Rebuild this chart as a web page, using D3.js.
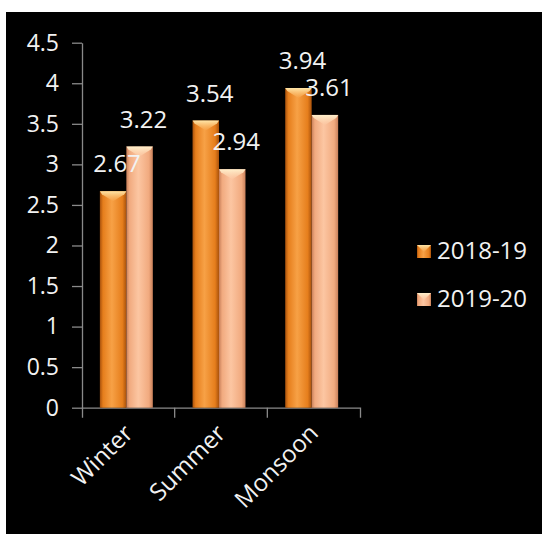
<!DOCTYPE html>
<html>
<head>
<meta charset="utf-8">
<script src="https://cdn.jsdelivr.net/npm/d3@7"></script>
<style>
  html, body { margin: 0; padding: 0; background: #ffffff; }
  svg { display: block; }
  text { font-family: "Open Sans", "Noto Sans", sans-serif; fill: #f2f2f2; }
</style>
</head>
<body>
<svg id="chart" width="542" height="534"></svg>
<script>
// Seasonal values for two years
const categories = ["Winter", "Summer", "Monsoon"];
const seriesNames = ["2018-19", "2019-20"];
const values2018 = [2.67, 3.54, 3.94];
const values2019 = [3.22, 2.94, 3.61];
const yTicks = [0, 0.5, 1, 1.5, 2, 2.5, 3, 3.5, 4, 4.5];
const yTickLabels = ["0", "0.5", "1", "1.5", "2", "2.5", "3", "3.5", "4", "4.5"];

const seriesValues = [values2018, values2019];

const svg = d3.select("#chart");

// colour ramps for the two series
const palettes = [
  { edge: "#a9520c", body: "#e67e1c", light: "#f7a146", cap: "#ffe6a8" },
  { edge: "#c9805a", body: "#f1aa7f", light: "#fcc6a2", cap: "#fff0cc" }
];

const defs = svg.append("defs");
palettes.forEach((p, i) => {
  const g = defs.append("linearGradient")
    .attr("id", "barGrad" + i)
    .attr("x1", "0%").attr("x2", "100%").attr("y1", "0%").attr("y2", "0%");
  [[0, p.edge], [0.12, p.body], [0.45, p.light], [0.85, p.body], [1, p.edge]]
    .forEach(([o, c]) => g.append("stop").attr("offset", o).attr("stop-color", c));
  const cg = defs.append("linearGradient")
    .attr("id", "capGrad" + i)
    .attr("x1", "0%").attr("x2", "0%").attr("y1", "0%").attr("y2", "100%");
  cg.append("stop").attr("offset", 0).attr("stop-color", p.cap).attr("stop-opacity", 1);
  cg.append("stop").attr("offset", 1).attr("stop-color", p.light).attr("stop-opacity", 0.6);
});

// dark panel
svg.append("rect")
  .attr("x", 6).attr("y", 12)
  .attr("width", 536).attr("height", 522)
  .attr("fill", "#000000");

const plotLeft = 82, plotRight = 360, plotTop = 42.7, plotBottom = 407.7;
const fontSize = "24px";

const y = d3.scaleLinear().domain([0, 4.5]).range([plotBottom, plotTop]);
const x0 = d3.scaleBand().domain(categories).range([plotLeft, plotRight]).padding(0);
const x1 = d3.scaleBand().domain(seriesNames).range([0, x0.bandwidth()])
  .paddingInner(0).paddingOuter(0.75).align(0.45);

const axisColor = "#8a8a8a";

// y axis
const yAxis = svg.append("g")
  .attr("transform", `translate(${plotLeft},0)`)
  .call(d3.axisLeft(y)
    .tickValues(yTicks)
    .tickFormat((d, i) => yTickLabels[i])
    .tickSize(10)
    .tickSizeOuter(0)
    .tickPadding(13));
yAxis.selectAll("path, line").attr("stroke", axisColor).attr("stroke-width", 1.3);
yAxis.selectAll("text")
  .attr("fill", "#f2f2f2")
  .style("font-size", "23px")
  .style("font-family", "'Open Sans', sans-serif");

// x axis: outer ticks at the ends, boundary ticks between categories
const xAxis = svg.append("g")
  .attr("transform", `translate(0,${plotBottom})`)
  .call(d3.axisBottom(x0).tickSize(0).tickSizeOuter(10).tickFormat(""));
xAxis.select(".domain").attr("stroke", axisColor).attr("stroke-width", 1.3);
xAxis.selectAll(".boundary")
  .data(categories.slice(1))
  .join("line")
  .attr("class", "boundary")
  .attr("x1", d => x0(d)).attr("x2", d => x0(d))
  .attr("y1", 0).attr("y2", 10)
  .attr("stroke", axisColor).attr("stroke-width", 1.3);

// rotated category labels
svg.append("g")
  .selectAll("text")
  .data(categories)
  .join("text")
  .attr("text-anchor", "end")
  .attr("transform", d => `translate(${x0(d) + x0.bandwidth() / 2 + 6},${plotBottom + 27}) rotate(-45)`)
  .style("font-size", fontSize)
  .text(d => d);

// bars
const barData = [];
categories.forEach((c, ci) => {
  seriesNames.forEach((s, si) => {
    barData.push({ cat: c, series: s, si, value: seriesValues[si][ci] });
  });
});

const bw = x1.bandwidth();
const bars = svg.append("g")
  .selectAll("g")
  .data(barData)
  .join("g")
  .attr("transform", d => `translate(${x0(d.cat) + x1(d.series)},0)`);

bars.append("rect")
  .attr("x", 0)
  .attr("y", d => y(d.value))
  .attr("width", bw)
  .attr("height", d => y(0) - y(d.value))
  .attr("fill", d => `url(#barGrad${d.si})`);

// bevelled top cap
bars.append("path")
  .attr("d", d => {
    const t = y(d.value);
    return `M0,${t} L${bw},${t} L${bw - 2},${t + 3} L${bw / 2},${t + 10} L2,${t + 3} Z`;
  })
  .attr("fill", d => `url(#capGrad${d.si})`);

// value labels, drawn above every bar
svg.append("g")
  .selectAll("text")
  .data(barData)
  .join("text")
  .attr("x", d => x0(d.cat) + x1(d.series) + bw / 2 + 4)
  .attr("y", d => y(d.value) - 19)
  .attr("text-anchor", "middle")
  .style("font-size", fontSize)
  .text(d => d.value.toFixed(2));

// legend
const legend = svg.append("g")
  .selectAll("g")
  .data(seriesNames)
  .join("g")
  .attr("transform", (d, i) => `translate(417,${245 + i * 48})`);

legend.append("rect")
  .attr("width", 14).attr("height", 13)
  .attr("fill", (d, i) => `url(#barGrad${i})`);
legend.append("path")
  .attr("d", "M0,0 L14,0 L7,7 Z")
  .attr("fill", (d, i) => `url(#capGrad${i})`);
legend.append("text")
  .attr("x", 20)
  .attr("y", 13.5)
  .style("font-size", fontSize)
  .text(d => d);
</script>
</body>
</html>
